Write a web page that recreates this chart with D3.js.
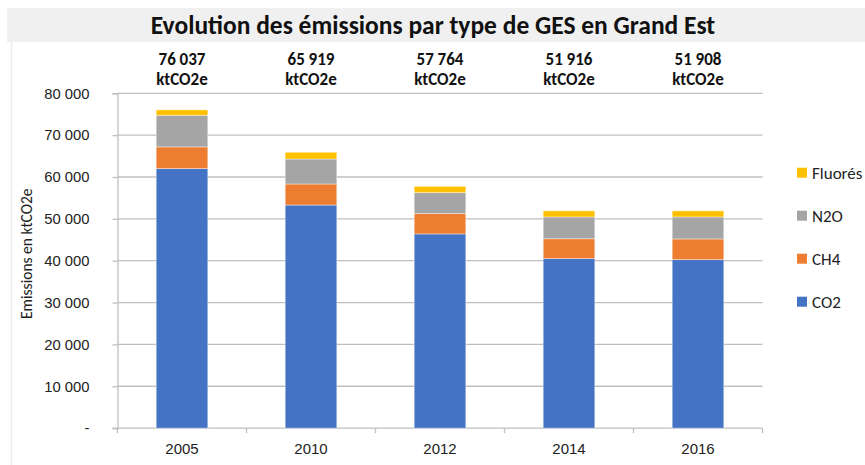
<!DOCTYPE html>
<html>
<head>
<meta charset="utf-8">
<script src="https://cdn.jsdelivr.net/npm/d3@7"></script>
<style>
  html, body { margin: 0; padding: 0; background: #fff; }
  svg { display: block; font-family: Carlito, Calibri, Lato, "Open Sans", sans-serif; }
</style>
</head>
<body>
<svg id="chart" width="865" height="465"></svg>
<script>
// Emissions de GES en Grand Est (ktCO2e), par type de gaz
const years = ["2005", "2010", "2012", "2014", "2016"];
const co2 = [62000, 53300, 46400, 40500, 40250];
const ch4 = [5200, 5030, 4850, 4750, 4950];
const n2o = [7550, 5970, 5000, 5200, 5250];
const fluores = [1287, 1619, 1514, 1466, 1458];
const totals = [76037, 65919, 57764, 51916, 51908];
const seriesNames = ["CO2", "CH4", "N2O", "Fluorés"];
const yTicks = [0, 10000, 20000, 30000, 40000, 50000, 60000, 70000, 80000];

const colors = { "CO2": "#4472c4", "CH4": "#ed7d31", "N2O": "#a5a5a5", "Fluorés": "#ffc000" };

const rows = years.map((y, i) => ({ year: y, "CO2": co2[i], "CH4": ch4[i], "N2O": n2o[i], "Fluorés": fluores[i] }));
const stacked = d3.stack().keys(seriesNames)(rows);

const svg = d3.select("#chart");
const margin = { left: 117.5, right: 102.5, top: 93.3, bottom: 36.9 };
const W = 865, H = 465;

const x = d3.scaleBand().domain(years).range([margin.left, W - margin.right]).paddingInner(0.6).paddingOuter(0.3);
const y = d3.scaleLinear().domain([0, 80000]).range([H - margin.bottom, margin.top]);

// Bandeau du titre
svg.append("rect").attr("x", 7).attr("y", 8).attr("width", W - 7).attr("height", 34).attr("fill", "#f0f0f0");
svg.append("line").attr("x1", 11.5).attr("x2", 11.5).attr("y1", 42).attr("y2", H)
  .attr("stroke", "#ececec").attr("stroke-width", 1.5);
svg.append("text").attr("x", 433).attr("y", 34).attr("text-anchor", "middle")
  .attr("font-size", 25.5).attr("font-weight", "bold").attr("fill", "#111")
  .text("Evolution des émissions par type de GES en Grand Est");

// Quadrillage
svg.append("g").selectAll("line").data(yTicks.filter(v => v > 0)).join("line")
  .attr("x1", margin.left).attr("x2", W - margin.right)
  .attr("y1", d => y(d)).attr("y2", d => y(d))
  .attr("stroke", "#bfbfbf").attr("stroke-width", 1.3);

// Axe Y
const fmt = v => v === 0 ? "-" : d3.format(",")(v).replace(/,/g, " ");
const yAxis = svg.append("g").attr("transform", `translate(${margin.left},0)`)
  .call(d3.axisLeft(y).tickValues(yTicks).tickSize(5).tickPadding(23).tickFormat(fmt));
yAxis.select(".domain").attr("stroke", "#bfbfbf").attr("stroke-width", 1.3);
yAxis.selectAll(".tick line").attr("stroke", "#bfbfbf").attr("stroke-width", 1.3);
yAxis.selectAll(".tick text").attr("font-size", 14.8).attr("fill", "#222").attr("font-family", null);

// Axe X
const xAxis = svg.append("g").attr("transform", `translate(0,${y(0)})`)
  .call(d3.axisBottom(x).tickSize(0).tickPadding(15));
xAxis.select(".domain").remove();
xAxis.selectAll(".tick text").attr("font-size", 15).attr("fill", "#222").attr("font-family", null);
// Séparateurs entre catégories
const step = x.step();
const bounds = d3.range(years.length + 1).map(i => margin.left + i * step);
svg.append("g").selectAll("line").data(bounds).join("line")
  .attr("x1", d => d).attr("x2", d => d).attr("y1", y(0)).attr("y2", y(0) + 5)
  .attr("stroke", "#bfbfbf").attr("stroke-width", 1.3);
svg.append("line").attr("x1", margin.left - 5).attr("x2", W - margin.right)
  .attr("y1", y(0)).attr("y2", y(0)).attr("stroke", "#bfbfbf").attr("stroke-width", 1.3);

// Titre de l'axe Y
svg.append("text").attr("transform", `translate(32,${(y(0) + y(80000)) / 2 - 7}) rotate(-90)`)
  .attr("text-anchor", "middle").attr("font-size", 15.5).attr("fill", "#222")
  .text("Emissions en ktCO2e");

// Barres empilées
svg.append("g").selectAll("g").data(stacked).join("g")
  .attr("fill", d => colors[d.key])
  .selectAll("rect").data(d => d).join("rect")
  .attr("x", d => x(d.data.year))
  .attr("width", x.bandwidth())
  .attr("y", d => y(d[1]))
  .attr("height", d => y(d[0]) - y(d[1]))
  .attr("stroke", "#fff").attr("stroke-opacity", 0.5).attr("stroke-width", 0.8);

// Totaux au-dessus des barres
const labels = svg.append("g").selectAll("text").data(years).join("text")
  .attr("text-anchor", "middle").attr("font-weight", "bold").attr("font-size", 17).attr("fill", "#111")
  .attr("x", d => x(d) + x.bandwidth() / 2);
labels.append("tspan").attr("x", d => x(d) + x.bandwidth() / 2).attr("y", 65)
  .text((d, i) => fmt(totals[i]));
labels.append("tspan").attr("x", d => x(d) + x.bandwidth() / 2).attr("y", 85).text("ktCO2e");

// Légende
const legendOrder = seriesNames.slice().reverse();
const lg = svg.append("g").selectAll("g").data(legendOrder).join("g")
  .attr("transform", (d, i) => `translate(797,${172.7 + i * 43})`);
lg.append("rect").attr("x", 0).attr("y", -5).attr("width", 10).attr("height", 10).attr("fill", d => colors[d]);
lg.append("text").attr("x", 15).attr("y", 6).attr("font-size", 17).attr("fill", "#222").text(d => d);
</script>
</body>
</html>
